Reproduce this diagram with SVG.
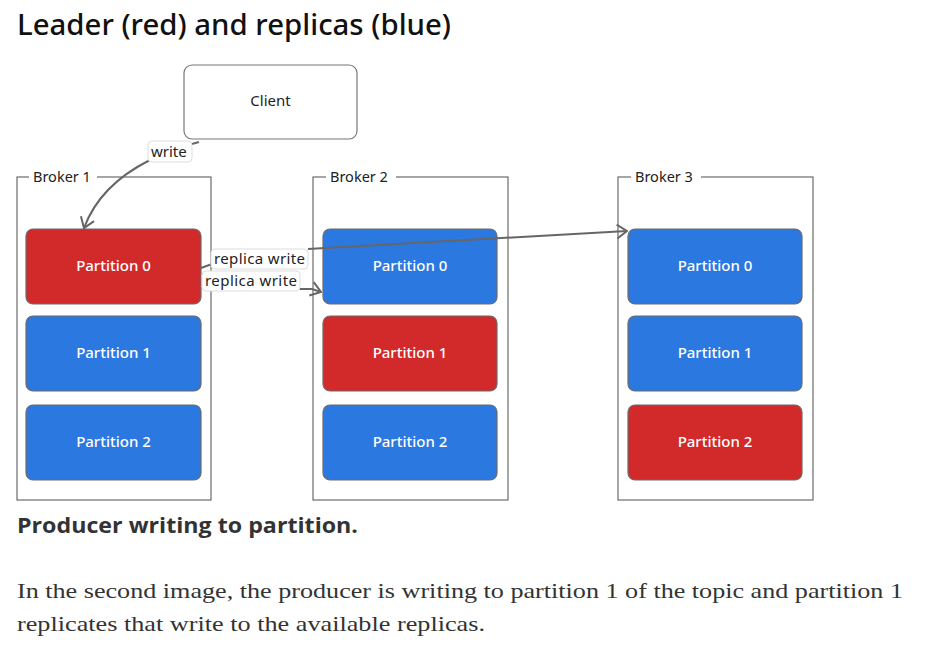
<svg xmlns="http://www.w3.org/2000/svg" width="925" height="650" viewBox="0 0 925 650">
<style>
.frame{fill:none;stroke:#6b6b6b;stroke-width:1.2}
.blab{font-family:"Noto Sans","Liberation Sans",sans-serif;font-size:14.5px;fill:#222}
.p{stroke:#6b6b6b;stroke-width:1.2}
.red{fill:#d22a2a}
.blue{fill:#2b78e0}
.pt{font-family:"Noto Sans","Liberation Sans",sans-serif;font-size:15px;font-weight:500;fill:#fff;text-anchor:middle}
.conn{fill:none;stroke:#666;stroke-width:2}
.lbl{fill:#fff;stroke:#ddd;stroke-width:1}
.lt{font-family:"Noto Sans","Liberation Sans",sans-serif;font-size:15px;fill:#222}
</style>
<defs>
<marker id="ah" viewBox="0 0 12 16" refX="11" refY="8" markerWidth="12" markerHeight="16" markerUnits="userSpaceOnUse" orient="auto">
<path d="M1,1 L11,8 L1,15" fill="none" stroke="#666" stroke-width="2"/>
</marker>
</defs>
<rect width="925" height="650" fill="#fff"/>
<text x="17" y="35" font-family="Noto Sans, Liberation Sans, sans-serif" font-size="28" font-weight="500" fill="#111" textLength="434" lengthAdjust="spacingAndGlyphs">Leader (red) and replicas (blue)</text>

<g id="client">
<rect x="184" y="65" width="173" height="74" rx="8" fill="#fff" stroke="#777" stroke-width="1.2"/>
<text x="270.5" y="106" class="lt" text-anchor="middle">Client</text>
</g>

<g id="broker1">
<rect class="frame" x="17" y="177" width="194" height="323"/>
<rect x="29" y="168" width="68" height="18" fill="#fff"/>
<text class="blab" x="33" y="182">Broker 1</text>
</g>
<g id="broker2">
<rect class="frame" x="313" y="177" width="195" height="323"/>
<rect x="326" y="168" width="70" height="18" fill="#fff"/>
<text class="blab" x="330" y="182">Broker 2</text>
</g>
<g id="broker3">
<rect class="frame" x="618" y="177" width="195" height="323"/>
<rect x="631" y="168" width="70" height="18" fill="#fff"/>
<text class="blab" x="635" y="182">Broker 3</text>
</g>

<g id="b1p0"><rect class="p red" x="26" y="229" width="175" height="75" rx="7"/><text class="pt" x="113.5" y="271">Partition 0</text></g>
<g id="b1p1"><rect class="p blue" x="26" y="316" width="175" height="75" rx="7"/><text class="pt" x="113.5" y="358">Partition 1</text></g>
<g id="b1p2"><rect class="p blue" x="26" y="405" width="175" height="75" rx="7"/><text class="pt" x="113.5" y="447">Partition 2</text></g>

<g id="b2p0"><rect class="p blue" x="323" y="229" width="174" height="75" rx="7"/><text class="pt" x="410" y="271">Partition 0</text></g>
<g id="b2p1"><rect class="p red" x="323" y="316" width="174" height="75" rx="7"/><text class="pt" x="410" y="358">Partition 1</text></g>
<g id="b2p2"><rect class="p blue" x="323" y="405" width="174" height="75" rx="7"/><text class="pt" x="410" y="447">Partition 2</text></g>

<g id="b3p0"><rect class="p blue" x="628" y="229" width="174" height="75" rx="7"/><text class="pt" x="715" y="271">Partition 0</text></g>
<g id="b3p1"><rect class="p blue" x="628" y="316" width="174" height="75" rx="7"/><text class="pt" x="715" y="358">Partition 1</text></g>
<g id="b3p2"><rect class="p red" x="628" y="405" width="174" height="75" rx="7"/><text class="pt" x="715" y="447">Partition 2</text></g>

<g id="connectors">
<path class="conn" d="M199,142 L192,144"/>
<path class="conn" d="M150,160 Q100,185 84,228" marker-end="url(#ah)"/>
<rect class="lbl" x="148" y="141" width="44" height="21" rx="4"/>
<text class="lt" x="151" y="157">write</text>

<path class="conn" d="M201,268 L212,264"/>
<path class="conn" d="M308,249 L627,231" marker-end="url(#ah)"/>
<rect class="lbl" x="211" y="249" width="97" height="20" rx="4"/>
<text class="lt" x="214" y="264" textLength="91">replica write</text>

<path class="conn" d="M299,289 L312,289 L321,292" marker-end="url(#ah)"/>
<rect class="lbl" x="202" y="271" width="98" height="20" rx="4"/>
<text class="lt" x="205" y="286" textLength="92">replica write</text>
</g>

<text x="17" y="533" font-family="Open Sans, Liberation Sans, sans-serif" font-weight="bold" font-size="22" fill="#333" textLength="341" lengthAdjust="spacingAndGlyphs">Producer writing to partition.</text>
<text x="17" y="598" font-family="Liberation Serif, serif" font-size="22" fill="#333" textLength="886" lengthAdjust="spacingAndGlyphs">In the second image, the producer is writing to partition 1 of the topic and partition 1</text>
<text x="17" y="631" font-family="Liberation Serif, serif" font-size="22" fill="#333" textLength="468" lengthAdjust="spacingAndGlyphs">replicates that write to the available replicas.</text>
</svg>
